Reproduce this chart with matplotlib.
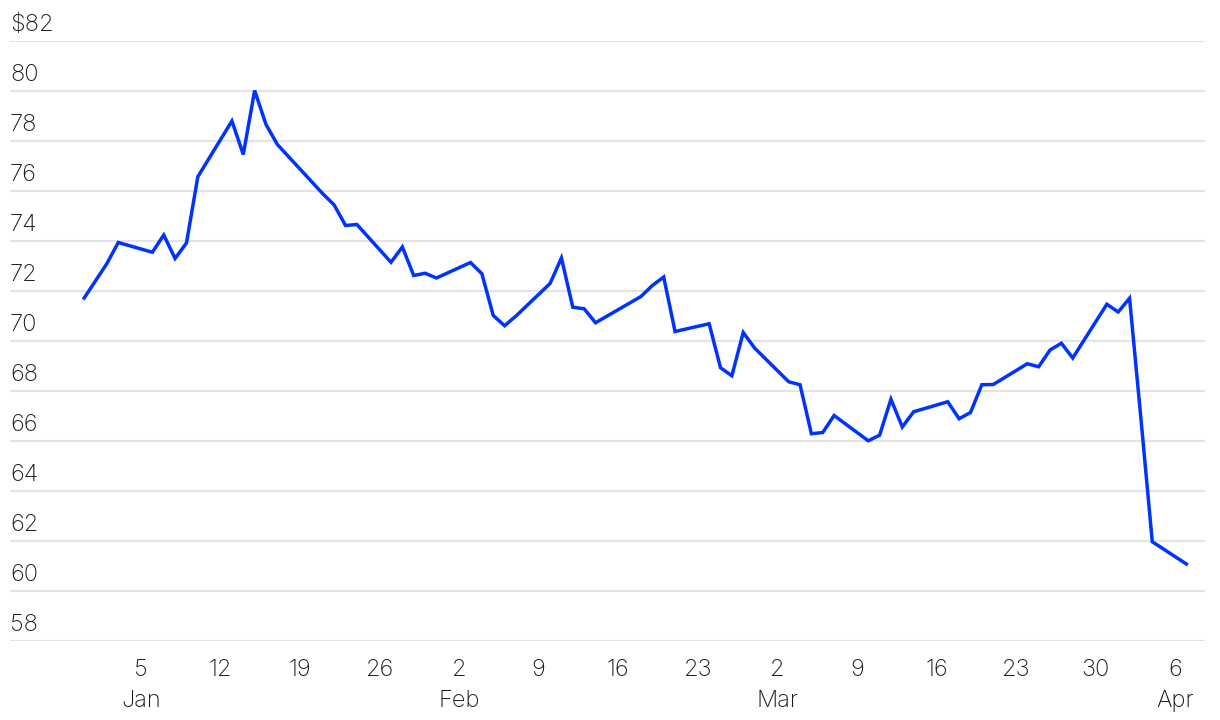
import matplotlib
matplotlib.use("Agg")
import matplotlib.pyplot as plt
import matplotlib.transforms as mtransforms
import pandas as pd

# daily closing prices, dollars per barrel
dates = [
    "2024-12-31", "2025-01-02", "2025-01-03", "2025-01-06", "2025-01-07", "2025-01-08",
    "2025-01-09", "2025-01-10", "2025-01-13", "2025-01-14", "2025-01-15", "2025-01-16",
    "2025-01-17", "2025-01-21", "2025-01-22", "2025-01-23", "2025-01-24", "2025-01-27",
    "2025-01-28", "2025-01-29", "2025-01-30", "2025-01-31", "2025-02-03", "2025-02-04",
    "2025-02-05", "2025-02-06", "2025-02-07", "2025-02-10", "2025-02-11", "2025-02-12",
    "2025-02-13", "2025-02-14", "2025-02-18", "2025-02-19", "2025-02-20", "2025-02-21",
    "2025-02-24", "2025-02-25", "2025-02-26", "2025-02-27", "2025-02-28", "2025-03-03",
    "2025-03-04", "2025-03-05", "2025-03-06", "2025-03-07", "2025-03-10", "2025-03-11",
    "2025-03-12", "2025-03-13", "2025-03-14", "2025-03-17", "2025-03-18", "2025-03-19",
    "2025-03-20", "2025-03-21", "2025-03-24", "2025-03-25", "2025-03-26", "2025-03-27",
    "2025-03-28", "2025-03-31", "2025-04-01", "2025-04-02", "2025-04-03", "2025-04-04",
    "2025-04-07",
]
prices = [
    71.72, 73.10, 73.94, 73.55, 74.24, 73.30,
    73.92, 76.57, 78.80, 77.46, 80.02, 78.66,
    77.86, 75.89, 75.44, 74.62, 74.66, 73.15,
    73.76, 72.62, 72.71, 72.52, 73.14, 72.69,
    71.02, 70.61, 71.00, 72.30, 73.32, 71.35,
    71.29, 70.73, 71.78, 72.22, 72.56, 70.38,
    70.69, 68.93, 68.61, 70.34, 69.72, 68.37,
    68.25, 66.29, 66.34, 67.02, 66.01, 66.23,
    67.67, 66.56, 67.17, 67.57, 66.89, 67.14,
    68.25, 68.26, 69.09, 68.97, 69.64, 69.91,
    69.32, 71.47, 71.16, 71.71, 66.90, 61.97,
    61.08,
]

y_ticks = list(range(58, 84, 2))
y_labels = [f"${v}" if v == 82 else str(v) for v in y_ticks]

x_ticks = ["2025-01-05", "2025-01-12", "2025-01-19", "2025-01-26", "2025-02-02",
           "2025-02-09", "2025-02-16", "2025-02-23", "2025-03-02", "2025-03-09",
           "2025-03-16", "2025-03-23", "2025-03-30", "2025-04-06"]
x_labels = ["5\nJan", "12", "19", "26", "2\nFeb", "9", "16", "23", "2\nMar", "9",
            "16", "23", "30", "6\nApr"]

plt.rcParams["font.family"] = ["Inter", "DejaVu Sans"]
plt.rcParams["font.weight"] = "light"

W, H = 1220, 720
fig = plt.figure(figsize=(W / 100, H / 100), dpi=100)
ax = fig.add_axes([10 / W, (H - 641) / H, 1195 / W, 600 / H])

d = pd.to_datetime(dates)
ax.plot(d, prices, color="#0033ff", linewidth=2.5, solid_joinstyle="miter", zorder=3)

ax.set_ylim(58, 82)
x0 = pd.Timestamp("2025-01-05")
ax.set_xlim(x0 - pd.Timedelta(days=11.53), pd.Timestamp("2025-04-06") + pd.Timedelta(days=2.64))

for s in ax.spines.values():
    s.set_visible(False)

for v in y_ticks:
    ax.axhline(v, color="#e3e3e3", linewidth=1.5, zorder=1)

ax.set_yticks([])
trans = mtransforms.blended_transform_factory(ax.transAxes, ax.transData)
for v, lab in zip(y_ticks, y_labels):
    ax.annotate(lab, xy=(0, v), xycoords=trans, xytext=(0, 3.6), textcoords="offset points",
                ha="left", va="bottom", fontsize=17, color="#1a1a1a")

ax.set_xticks(pd.to_datetime(x_ticks))
ax.set_xticklabels(x_labels, fontsize=17, color="#1a1a1a", linespacing=1.55, va="top")
ax.tick_params(axis="x", length=0, pad=13)

fig.savefig("out.png", dpi=100)
